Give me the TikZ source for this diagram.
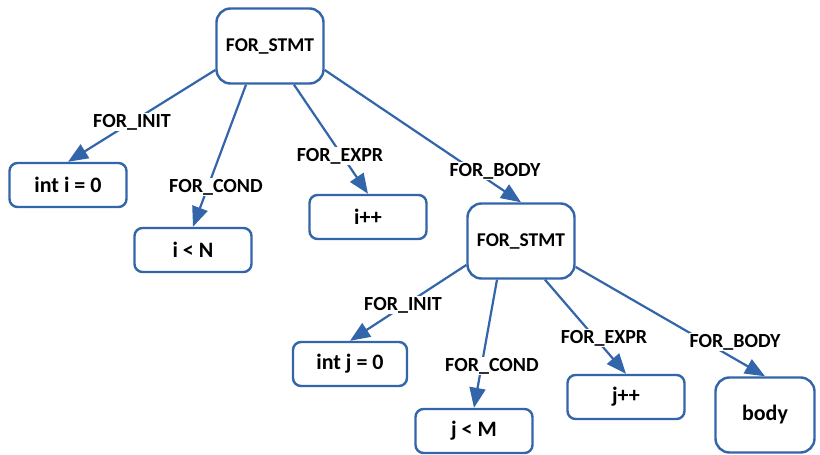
\documentclass[tikz,border=0pt]{standalone}
\usepackage{fontspec}
\setmainfont{Carlito}
\usepackage{tikz}
\usepackage{xcolor}
\usetikzlibrary{positioning, arrows.meta}
\definecolor{astblue}{RGB}{50, 101, 170}

\begin{document}
\begin{tikzpicture}[x=1pt, y=-1pt,
    leaf/.style={draw=astblue, line width=2.4pt, rounded corners=8pt, fill=white, minimum width=117pt, minimum height=44pt, font=\bfseries\fontsize{22}{26}\selectfont},
    stmt/.style={leaf, rounded corners=14pt, minimum width=107pt, minimum height=75pt, font=\bfseries\fontsize{19.5}{23}\selectfont},
    edge/.style={draw=astblue, line width=2.2pt, -{Triangle[length=20pt, width=16pt]}},
    lbl/.style={fill=white, inner sep=1pt, font=\bfseries\fontsize{20}{24}\selectfont}]
\useasboundingbox (0,0) rectangle (820,455);

% nodes
\node[stmt] (outer) at (270,46) {FOR\_STMT};
\node[leaf] (initi) at (68,185) {int i = 0};
\node[leaf] (condi) at (193,250) {i < N};
\node[leaf] (expri) at (368,217) {i++};
\node[stmt] (inner) at (521,241) {FOR\_STMT};
\node[leaf, minimum width=114pt] (initj) at (350,364) {int j = 0};
\node[leaf] (condj) at (474,431) {j < M};
\node[leaf] (exprj) at (626,397) {j++};
\node[stmt, minimum width=99pt, font=\bfseries\fontsize{22}{26}\selectfont] (body) at (765,415) {body};

% edges
\draw[edge] ([yshift=-24pt]outer.west) -- (initi.north);
\draw[edge] ([xshift=-24pt]outer.south) -- (condi.north);
\draw[edge] ([xshift=24pt]outer.south) -- (expri.north);
\draw[edge] ([yshift=-24pt]outer.east) -- (inner.north);
\draw[edge] ([yshift=-24pt]inner.west) -- (initj.north);
\draw[edge] ([xshift=-24pt]inner.south) -- (condj.north);
\draw[edge] ([xshift=24pt]inner.south) -- (exprj.north);
\draw[edge] ([yshift=-26pt]inner.east) -- (body.north);

% edge labels
\node[lbl] (li1) at (132,122) {FOR\_INIT};
\node[lbl] (lc1) at (216,187) {FOR\_COND};
\node[lbl] (le1) at (340,156) {FOR\_EXPR};
\node[lbl] (lb1) at (495,171) {FOR\_BODY};
\node[lbl] (li2) at (403,305) {FOR\_INIT};
\node[lbl] (lc2) at (492,366) {FOR\_COND};
\node[lbl] (le2) at (604,338) {FOR\_EXPR};
\node[lbl] (lb2) at (735,342) {FOR\_BODY};
\end{tikzpicture}
\end{document}
